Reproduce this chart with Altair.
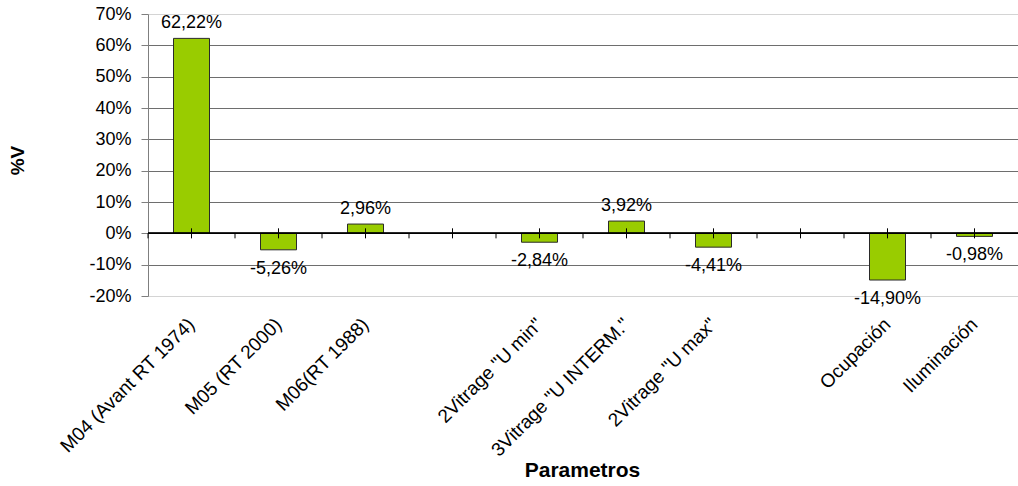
import altair as alt
import pandas as pd

# Category slots along the x axis (two empty slots separate the groups)
categories = [
    "M04 (Avant RT 1974)",
    "M05 (RT 2000)",
    "M06(RT 1988)",
    " ",
    '2Vitrage "U min"',
    '3Vitrage "U INTERM."',
    '2Vitrage "U max"',
    "  ",
    "Ocupación",
    "Iluminación",
]
# Percentage variation for each slot (None = empty slot)
values = [62.22, -5.26, 2.96, None, -2.84, 3.92, -4.41, None, -14.90, -0.98]
y_ticks = [-20, -10, 0, 10, 20, 30, 40, 50, 60, 70]

FONT = "Liberation Sans"

df = pd.DataFrame({"cat": categories, "val": values})
df["label"] = [
    "" if v is None or pd.isna(v) else f"{v:.2f}".replace(".", ",") + "%"
    for v in df["val"]
]
bars_df = df.dropna(subset=["val"])
slots_df = pd.DataFrame({"cat": categories})

x_scale = alt.Scale(domain=categories, paddingInner=0, paddingOuter=0)
y_scale = alt.Scale(domain=[-20, 70], nice=False, zero=False)

x_axis = alt.Axis(
    title="Parametros",
    labelAngle=-45,
    labelAlign="right",
    labelBaseline="middle",
    labelPadding=25,
    labelFontSize=19,
    labelFont=FONT,
    labelColor="#000000",
    labelOverlap=False,
    labelLimit=400,
    domain=False,
    ticks=False,
    grid=False,
    titleFont=FONT,
    titleFontSize=21,
    titleFontWeight="bold",
    titleColor="#000000",
    titleX=434,
    titleY=174,
    titleAlign="center",
    titleBaseline="middle",
)

grid_color = {
    "condition": [
        {"test": "datum.value === 0", "value": "#000000"},
        {"test": "datum.value === 70 || datum.value === -20", "value": "#d4d4d4"},
    ],
    "value": "#6e6e6e",
}

y_axis = alt.Axis(
    title="%V",
    values=y_ticks,
    tickCount=10,
    labelExpr="datum.value + '%'",
    labelFontSize=18,
    labelFont=FONT,
    labelColor="#000000",
    labelPadding=10,
    labelOverlap=False,
    tickSize=7,
    tickColor="#7f7f7f",
    domainColor="#7f7f7f",
    grid=True,
    gridColor=grid_color,
    gridWidth=1,
    titleFont=FONT,
    titleFontSize=19,
    titleFontWeight="bold",
    titleColor="#000000",
    titleAngle=-90,
    titleX=-131,
    titleY=146,
    titleAlign="center",
    titleBaseline="middle",
)


def x_enc(band=0.5):
    return alt.X("cat:N", scale=x_scale, axis=x_axis, sort=categories, bandPosition=band)


def y_val():
    return alt.Y("val:Q", scale=y_scale, axis=y_axis)


bars = alt.Chart(bars_df).mark_bar(
    size=36, color="#99cc00", stroke="#2a2a2a", strokeWidth=1
).encode(
    x=alt.X("cat:N", scale=x_scale, axis=x_axis, sort=categories),
    y=y_val(),
    y2=alt.datum(0),
)

# Zero line
zero_line = alt.Chart(slots_df).mark_rule(color="#000000", strokeWidth=1).encode(
    y=alt.datum(0, scale=y_scale, axis=y_axis),
)

# Small tick marks on the zero line: through each slot centre and below each boundary
center_ticks = alt.Chart(slots_df).mark_rule(color="#000000").encode(
    x=x_enc(0.5),
    y=alt.datum(1.6, scale=y_scale, axis=y_axis),
    y2=alt.datum(-1.6),
)
edge_ticks = alt.Chart(slots_df).mark_rule(color="#000000").encode(
    x=x_enc(0),
    y=alt.datum(0, scale=y_scale, axis=y_axis),
    y2=alt.datum(-1.6),
)

pos_labels = alt.Chart(bars_df).transform_filter("datum.val >= 0").mark_text(
    font=FONT, fontSize=18, color="#000000", baseline="alphabetic", dy=-10
).encode(
    x=alt.X("cat:N", scale=x_scale, axis=x_axis, sort=categories),
    y=y_val(),
    text="label:N",
)
neg_labels = alt.Chart(bars_df).transform_filter("datum.val < 0").mark_text(
    font=FONT, fontSize=18, color="#000000", baseline="top", dy=10
).encode(
    x=alt.X("cat:N", scale=x_scale, axis=x_axis, sort=categories),
    y=y_val(),
    text="label:N",
)

chart = (
    alt.layer(bars, zero_line, center_ticks, edge_ticks, pos_labels, neg_labels)
    .properties(
        width=870,
        height=282,
        padding={"left": 148, "top": 14, "right": 0, "bottom": 190},
        autosize=alt.AutoSizeParams(type="none"),
        background="#ffffff",
    )
    .configure_view(stroke=None)
)

chart.save("out.html", embed_options={"renderer": "svg", "actions": False})
